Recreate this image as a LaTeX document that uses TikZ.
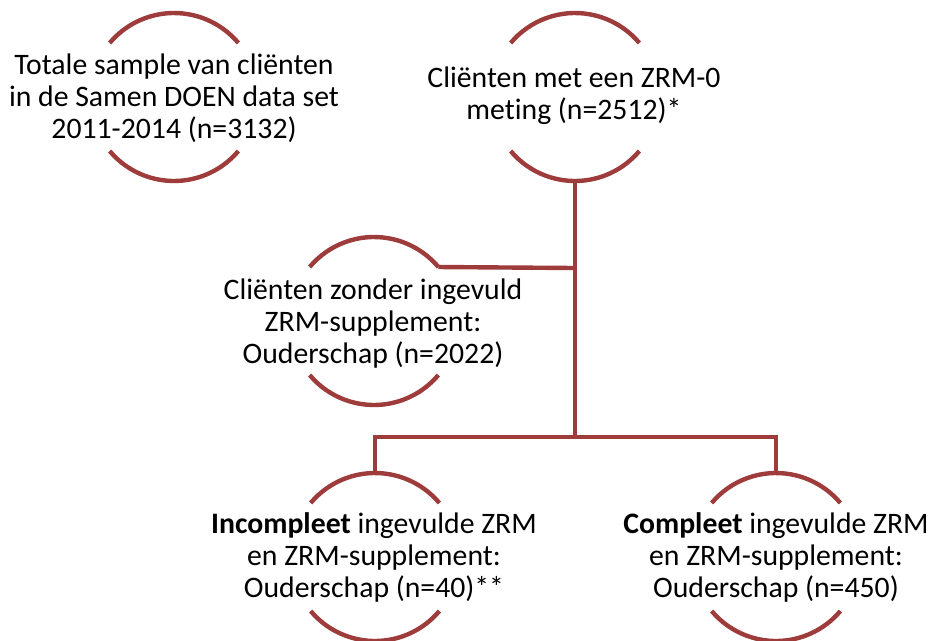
\documentclass[tikz,border=0pt]{standalone}
\usepackage{fontspec}
\setmainfont{Carlito}[Ligatures=NoCommon]
\begin{document}
\begin{tikzpicture}[x=0.75pt,y=-0.75pt,
  ring/.style={circle,minimum size=126pt,inner sep=0pt,outer sep=0pt},
  label/.style={align=center,font=\fontsize{22.3}{24}\selectfont,inner sep=0pt},
  arcline/.style={draw=brick,line width=3.3pt},
  link/.style={draw=brick,line width=3.3pt}]
\definecolor{brick}{RGB}{158,59,59}
\useasboundingbox (0,0) rectangle (928,640);

% rings (text holders with a top and bottom arc)
\node[ring] (n1) at (174,97) {};
\node[ring] (n2) at (575,97) {};
\node[ring] (n3) at (374,321) {};
\node[ring] (n4) at (375,557) {};
\node[ring] (n5) at (776,557) {};

\node[label] (t1) at (174,98) {Totale sample van cliënten\\in de Samen DOEN data set\\2011-2014 (n=3132)};
\node[label] (t2) at (574,96) {Cliënten met een ZRM-0\\meting (n=2512)*};
\node[label] (t3) at (373,324) {Cliënten zonder ingevuld\\ZRM-supplement:\\Ouderschap (n=2022)};
\node[label] (t4) at (374,557) {\textbf{Incompleet} ingevulde ZRM\\en ZRM-supplement:\\Ouderschap (n=40)**};
\node[label] (t5) at (776,557) {\textbf{Compleet} ingevulde ZRM\\en ZRM-supplement:\\Ouderschap (n=450)};

\foreach \n in {n1,n2,n3,n4,n5}{
  \draw[arcline] (\n.140) arc[start angle=140,end angle=40,radius=63pt];
  \draw[arcline] (\n.220) arc[start angle=220,end angle=320,radius=63pt];
}

% connectors
\coordinate (j1) at (575,268);
\coordinate (j2) at (575,437);
\draw[link] (n2.south) -- (j2);
\draw[link] (j1) -- (n3.40);
\draw[link] (n4.north) -- (n4.north |- j2) -- (n5.north |- j2) -- (n5.north);
\end{tikzpicture}
\end{document}
